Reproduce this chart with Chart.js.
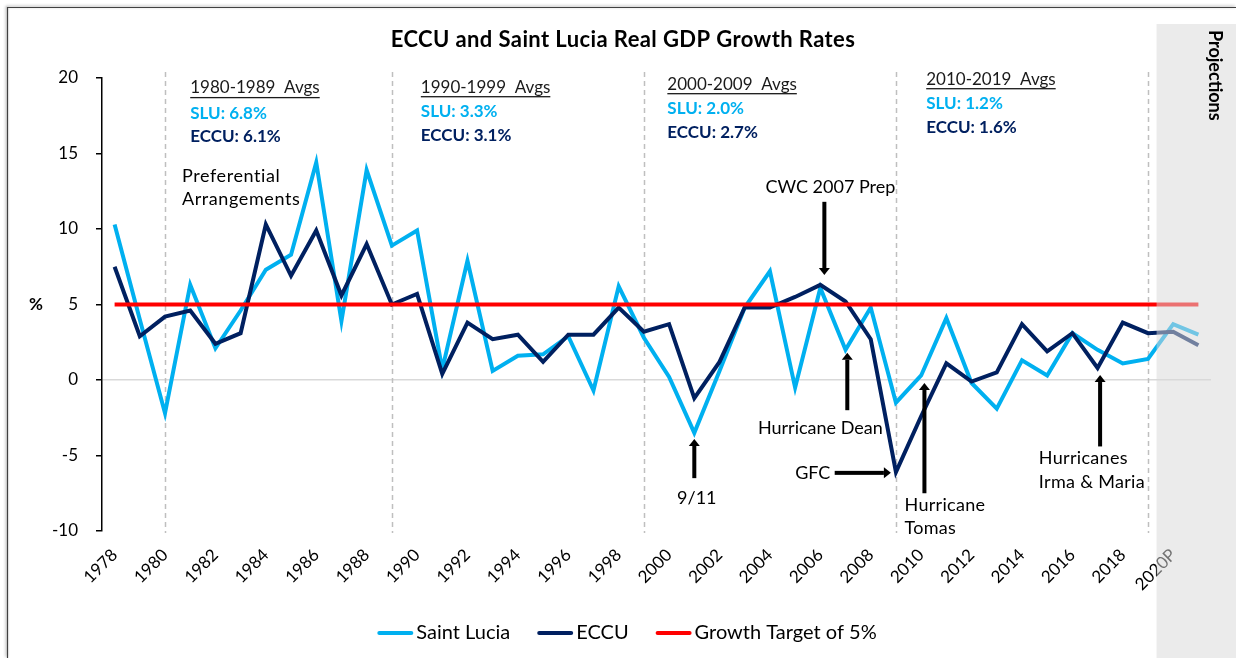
<!DOCTYPE html>
<html><head><meta charset="utf-8">
<script src="https://cdn.jsdelivr.net/npm/chart.js@4.4.1/dist/chart.umd.min.js"></script>
<style>html,body{margin:0;padding:0;background:#fff;}canvas{display:block}</style>
</head><body>
<canvas id="c" width="1236" height="658"></canvas>
<script>
// ---- data ----
const years = ['1978','1979','1980','1981','1982','1983','1984','1985','1986','1987',
  '1988','1989','1990','1991','1992','1993','1994','1995','1996','1997',
  '1998','1999','2000','2001','2002','2003','2004','2005','2006','2007',
  '2008','2009','2010','2011','2012','2013','2014','2015','2016','2017',
  '2018','2019','2020P','2021P'];
const saintLucia = [10.3, 4.0, -2.2, 6.3, 2.1, 4.6, 7.3, 8.3, 14.4, 3.9,
  13.9, 8.9, 9.9, 0.7, 7.9, 0.6, 1.6, 1.7, 2.9, -0.7,
  6.2, 2.8, 0.2, -3.5, 0.6, 4.8, 7.2, -0.5, 6.1, 2.0,
  4.8, -1.5, 0.3, 4.1, -0.2, -1.9, 1.3, 0.3, 3.1, 2.0,
  1.1, 1.4, 3.7, 3.0];
const eccu = [7.5, 2.9, 4.2, 4.6, 2.4, 3.1, 10.3, 6.9, 9.9, 5.6,
  9.0, 5.0, 5.7, 0.4, 3.8, 2.7, 3.0, 1.2, 3.0, 3.0,
  4.8, 3.2, 3.7, -1.2, 1.2, 4.8, 4.8, 5.5, 6.3, 5.2,
  2.7, -6.1, -2.4, 1.1, -0.1, 0.5, 3.7, 1.9, 3.1, 0.8,
  3.8, 3.1, 3.2, 2.3];
const growthTarget = [5,5,5,5,5,5,5,5,5,5, 5,5,5,5,5,5,5,5,5,5,
  5,5,5,5,5,5,5,5,5,5, 5,5,5,5,5,5,5,5,5,5, 5,5,5,5];
const yRange = [-10, 20];
const yStep = 5;
const decadeMarkers = ['1980','1989','1999','2009','2019'];
const avgPeriods = ['1980-1989  Avgs','1990-1999  Avgs','2000-2009  Avgs','2010-2019  Avgs'];
const avgSLU = ['6.8%','3.3%','2.0%','1.2%'];
const avgECCU = ['6.1%','3.1%','2.7%','1.6%'];
const firstProjection = '2020P';

const TITLE = 'ECCU and Saint Lucia Real GDP Growth Rates';
const FONT = "Lato, 'Open Sans', sans-serif";
const C_SLU = '#00B0F0', C_ECCU = '#002060', C_TARGET = '#FF0000';

// annotation anchors in (category index, value) space
const avgAnchors = [[3.0,19.34,17.68,16.1],[12.15,19.4,17.8,16.2],[21.93,19.6,18.0,16.4],[32.2,19.93,18.34,16.75]];
const notes = [
  {lines:['Preferential','Arrangements'], x:2.67, y:[13.5,12.0], align:'left', spacing:'0.6px'},
  {lines:['CWC 2007 Prep'], x:28.4, y:[12.8], align:'center', spacing:'0px'},
  {lines:['9/11'], x:23.1, y:[-7.8], align:'center', spacing:'0px'},
  {lines:['Hurricane Dean'], x:28.0, y:[-3.2], align:'center', spacing:'0px'},
  {lines:['GFC'], x:27.7, y:[-6.15], align:'center', spacing:'0px'},
  {lines:['Hurricane','Tomas'], x:31.34, y:[-8.3,-9.8], align:'left', spacing:'0.3px'},
  {lines:['Hurricanes','Irma & Maria'], x:36.67, y:[-5.2,-6.75], align:'left', spacing:'0.3px'}
];
const arrows = [
  {x1:28.16, y1:11.8, x2:28.16, y2:6.95},
  {x1:23.0, y1:-6.5, x2:23.0, y2:-3.9},
  {x1:29.07, y1:-2.0, x2:29.07, y2:1.8},
  {x1:28.57, y1:-6.15, x2:30.8, y2:-6.15},
  {x1:32.13, y1:-7.5, x2:32.13, y2:-0.2},
  {x1:39.1, y1:-4.4, x2:39.1, y2:0.33}
];

function drawArrow(ctx, x1, y1, x2, y2) {
  const ang = Math.atan2(y2 - y1, x2 - x1);
  const len = Math.hypot(x2 - x1, y2 - y1);
  const head = 7, hw = 5.5, sw = 2;
  ctx.save();
  ctx.translate(x1, y1); ctx.rotate(ang);
  ctx.fillStyle = '#000';
  ctx.fillRect(0, -sw, len - head, sw * 2);
  ctx.beginPath();
  ctx.moveTo(len - head, -hw); ctx.lineTo(len, 0); ctx.lineTo(len - head, hw);
  ctx.closePath(); ctx.fill();
  ctx.restore();
}

const decorations = {
  id: 'decorations',
  beforeDatasetsDraw(chart) {
    const {ctx, chartArea, scales: {x}} = chart;
    ctx.save();
    ctx.strokeStyle = '#bfbfbf'; ctx.lineWidth = 1.5; ctx.setLineDash([5, 4]);
    decadeMarkers.forEach(m => {
      const px = Math.round(x.getPixelForValue(years.indexOf(m))) + 0.5;
      ctx.beginPath(); ctx.moveTo(px, chartArea.top - 6); ctx.lineTo(px, chartArea.bottom + 2); ctx.stroke();
    });
    ctx.restore();
  },
  afterDatasetsDraw(chart) {
    const {ctx, scales: {x, y}} = chart;
    const X = v => x.getPixelForValue(v), Y = v => y.getPixelForValue(v);
    ctx.save();
    ctx.textBaseline = 'middle';
    // title
    ctx.font = `bold 22px ${FONT}`; ctx.fillStyle = '#000'; ctx.textAlign = 'center';
    ctx.letterSpacing = '0.4px';
    ctx.fillText(TITLE, 623, 40);
    ctx.letterSpacing = '0px';
    // decade averages
    avgAnchors.forEach((a, i) => {
      const lx = X(a[0]);
      ctx.textAlign = 'left';
      ctx.font = `17px ${FONT}`; ctx.fillStyle = '#1a1a1a';
      ctx.fillText(avgPeriods[i], lx, Y(a[1]));
      const w = ctx.measureText(avgPeriods[i]).width;
      ctx.fillRect(lx, Y(a[1]) + 9, w, 1.3);
      ctx.font = `bold 17px ${FONT}`;
      ctx.fillStyle = C_SLU; ctx.fillText('SLU: ' + avgSLU[i], lx, Y(a[2]));
      ctx.fillStyle = C_ECCU; ctx.fillText('ECCU: ' + avgECCU[i], lx, Y(a[3]));
    });
    // notes
    ctx.font = `18px ${FONT}`; ctx.fillStyle = '#000';
    notes.forEach(n => {
      ctx.textAlign = n.align;
      ctx.letterSpacing = n.spacing;
      n.lines.forEach((t, j) => ctx.fillText(t, X(n.x), Y(n.y[j])));
    });
    ctx.letterSpacing = '0px';
    arrows.forEach(a => drawArrow(ctx, X(a.x1), Y(a.y1), X(a.x2), Y(a.y2)));
    ctx.restore();
  },
  afterDraw(chart) {
    const {ctx, scales: {x}} = chart;
    // legend (series names and colours taken from the datasets)
    ctx.save();
    ctx.font = `20px ${FONT}`; ctx.textBaseline = 'middle'; ctx.textAlign = 'left';
    const sw = 36, gapText = 3, gapItem = 27, ly = 633;
    const items = chart.data.datasets.map(d => ({label: d.label, color: d.borderColor, lw: d.borderWidth}));
    const total = items.reduce((s, it) => s + sw + gapText + ctx.measureText(it.label).width, 0) + gapItem * (items.length - 1);
    let cx = 627 - total / 2;
    items.forEach(it => {
      ctx.strokeStyle = it.color; ctx.lineWidth = it.lw; ctx.lineCap = 'round';
      ctx.beginPath(); ctx.moveTo(cx + 2, ly); ctx.lineTo(cx + sw - 2, ly); ctx.stroke();
      ctx.fillStyle = '#000';
      ctx.fillText(it.label, cx + sw + gapText, ly);
      cx += sw + gapText + ctx.measureText(it.label).width + gapItem;
    });
    ctx.restore();

    const k = years.indexOf(firstProjection);
    const bx = (x.getPixelForValue(k - 1) + x.getPixelForValue(k)) / 2 - 4;
    ctx.save();
    ctx.fillStyle = 'rgba(216,216,216,0.52)';
    ctx.fillRect(bx, 24, chart.width - bx, chart.height - 24);
    // Projections label
    ctx.translate(bx + 58, 30); ctx.rotate(Math.PI / 2);
    ctx.font = `bold 18px ${FONT}`; ctx.fillStyle = '#000';
    ctx.textAlign = 'left'; ctx.textBaseline = 'middle';
    ctx.fillText('Projections', 0, 0);
    ctx.restore();
    // % label
    ctx.save();
    ctx.font = `bold 17px ${FONT}`; ctx.fillStyle = '#000'; ctx.textAlign = 'center'; ctx.textBaseline = 'middle';
    ctx.fillText('%', 36, chart.scales.y.getPixelForValue(5));
    // frame
    ctx.shadowColor = 'rgba(0,0,0,0.45)'; ctx.shadowBlur = 3; ctx.shadowOffsetX = -1; ctx.shadowOffsetY = -1;
    ctx.strokeStyle = '#404040'; ctx.lineWidth = 1.2;
    ctx.beginPath(); ctx.moveTo(7.5, chart.height); ctx.lineTo(7.5, 7.5); ctx.lineTo(chart.width, 7.5); ctx.stroke();
    ctx.restore();
  }
};

new Chart(document.getElementById('c'), {
  type: 'line',
  data: {
    labels: years,
    datasets: [
      {label: 'Saint Lucia', data: saintLucia, borderColor: C_SLU, backgroundColor: C_SLU, borderWidth: 4, pointRadius: 0, order: 2},
      {label: 'ECCU', data: eccu, borderColor: C_ECCU, backgroundColor: C_ECCU, borderWidth: 4, pointRadius: 0, order: 1},
      {label: 'Growth Target of 5%', data: growthTarget, borderColor: C_TARGET, backgroundColor: C_TARGET, borderWidth: 4, pointRadius: 0, order: 0}
    ]
  },
  options: {
    responsive: false, animation: false, devicePixelRatio: 1,
    layout: {padding: {top: 78, left: 0, right: 25, bottom: 4}},
    plugins: {
      title: {display: false}, tooltip: {enabled: false},
      legend: {display: false}
    },
    scales: {
      x: {
        offset: true,
        grid: {display: false, offset: true}, border: {display: false},
        afterFit(s) { s.height = 123; },
        ticks: {
          autoSkip: false, maxRotation: 45, minRotation: 45, padding: 6,
          font: {family: FONT, size: 17}, color: '#000',
          callback: (v, i) => (i % 2 === 0 ? years[i] : '')
        }
      },
      y: {
        min: yRange[0], max: yRange[1],
        afterFit(s) { s.width = 102; },
        border: {display: true, color: '#000', width: 1.5},
        grid: {
          drawTicks: true, tickLength: 6, tickColor: '#000', tickWidth: 1.5, lineWidth: 1.5,
          color: c => (c.tick && c.tick.value === 0 ? '#d9d9d9' : 'rgba(0,0,0,0)')
        },
        ticks: {stepSize: yStep, padding: 18, font: {family: FONT, size: 17}, color: '#000'}
      }
    }
  },
  plugins: [decorations]
});
</script>
</body></html>
